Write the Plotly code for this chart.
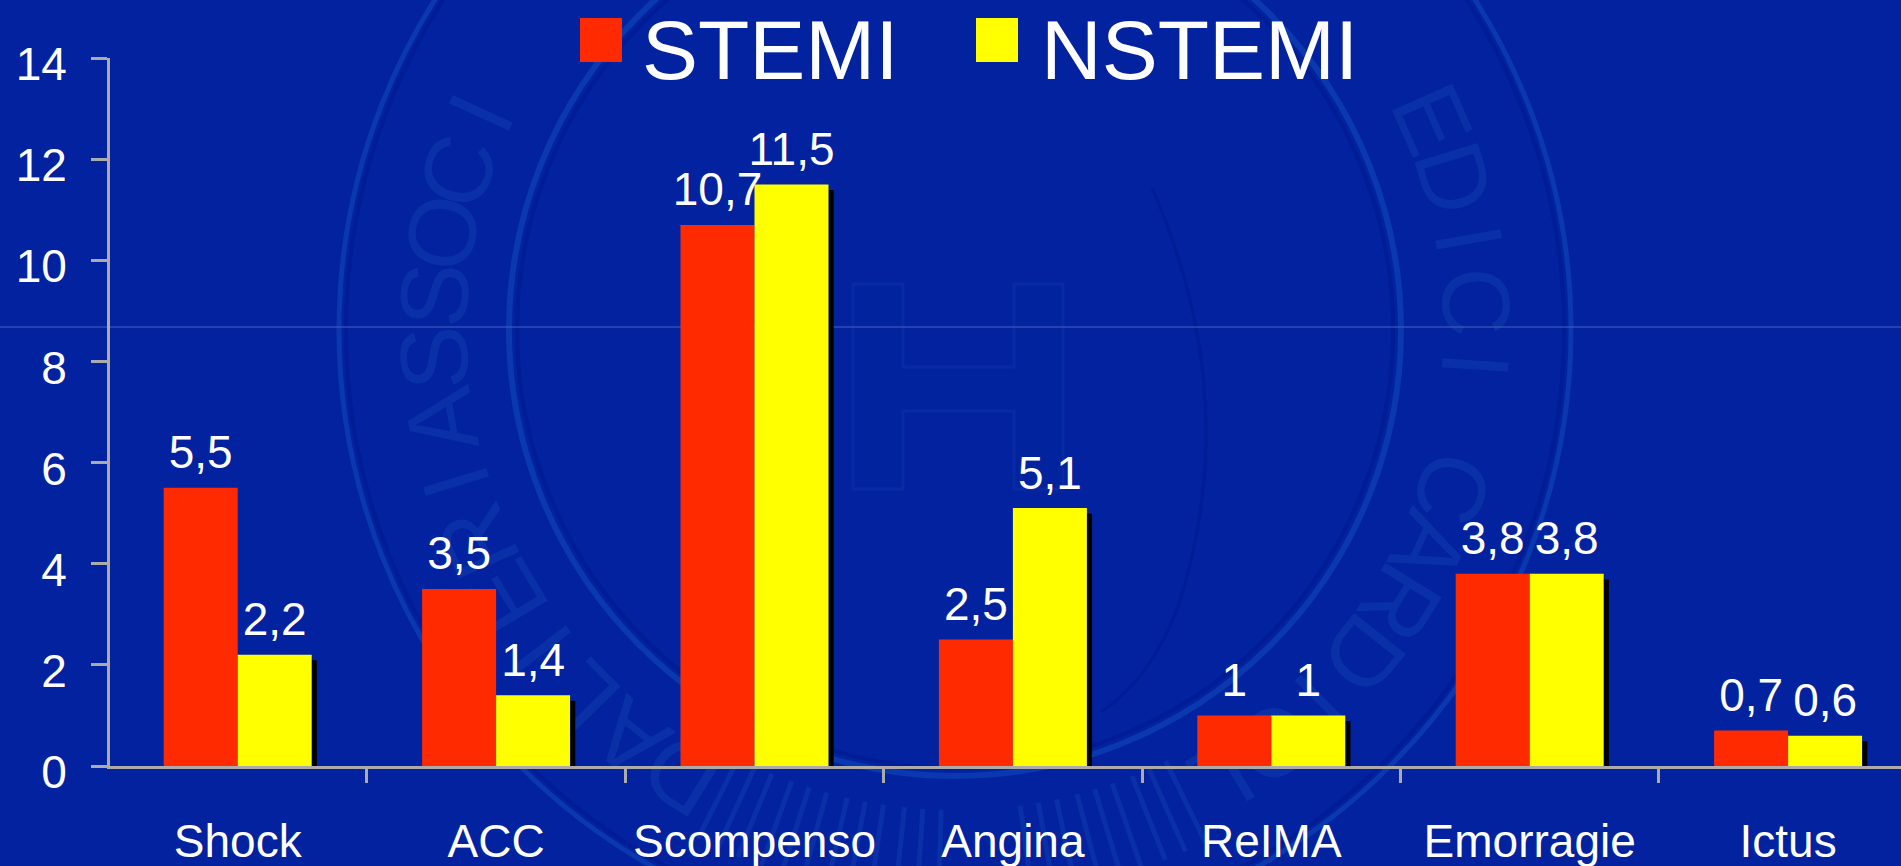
import math
import plotly.graph_objects as go

categories = ["Shock", "ACC", "Scompenso", "Angina", "ReIMA", "Emorragie", "Ictus"]
stemi = [5.5, 3.5, 10.7, 2.5, 1, 3.8, 0.7]
nstemi = [2.2, 1.4, 11.5, 5.1, 1, 3.8, 0.6]
series_names = ["STEMI", "NSTEMI"]
y_ticks = [0, 2, 4, 6, 8, 10, 12, 14]

BG = "#02229F"
RED = "#FF2A00"
YELLOW = "#FFFF00"
AXIS = "#ABABAB"
FONT = "Liberation Sans"
W, H = 1901, 866
L, T, B = 110, 58, 100
PW, PH = W - L, H - T - B
CAT_PX = 258.4
X_START = -0.5 + 1.5 / CAT_PX


def px(x):
    return (x - L) / PW


def py(y):
    return (H - B - y) / PH


def lab(vals):
    return [str(v).replace(".", ",") for v in vals]


BW = 74 / CAT_PX
LIFT = 0.13


def label_trace(vals, offset, name):
    # transparent carrier that holds the value labels a little above the bar
    return go.Bar(x=categories, y=[v + LIFT for v in vals], name=name, offset=offset, width=BW,
                  marker=dict(color="rgba(0,0,0,0)", line_width=0), text=lab(vals),
                  textposition="outside", cliponaxis=False, constraintext="none", hoverinfo="skip",
                  textfont=dict(size=46, color="#FFFFFF", family=FONT))


fig = go.Figure()
fig.add_bar(x=categories, y=stemi, name=series_names[0], offset=-BW, width=BW,
            marker=dict(color=RED, line_width=0))
fig.add_trace(label_trace(stemi, -BW, series_names[0] + " labels"))
fig.add_bar(x=categories, y=[v - 0.11 for v in nstemi], name=series_names[1] + " shadow",
            offset=0.02, width=BW, marker=dict(color="#000000", line_width=0), hoverinfo="skip")
fig.add_bar(x=categories, y=nstemi, name=series_names[1], offset=0, width=BW,
            marker=dict(color=YELLOW, line_width=0))
fig.add_trace(label_trace(nstemi, 0, series_names[1] + " labels"))

RING = "#0A38AE"
DARK = "#011D96"
LETTER = "#0A30A8"
CX, CY = 955, 330
shapes = []
for r, w, c in [(616, 5, RING), (609, 4, DARK), (446, 6, RING), (438, 4, DARK)]:
    shapes.append(dict(type="circle", xref="paper", yref="paper", layer="below",
                       x0=px(CX - r), x1=px(CX + r), y0=py(CY + r), y1=py(CY - r),
                       line=dict(color=c, width=w)))
# large H of the seal
H_pts = [(853, 284), (903, 284), (903, 367), (1014, 367), (1014, 284), (1063, 284),
         (1063, 489), (1014, 489), (1014, 411), (903, 411), (903, 489), (853, 489)]
shapes.append(dict(type="path", xref="paper", yref="paper", layer="below",
                   path="M" + " L".join(f"{px(a):.5f},{py(b):.5f}" for a, b in H_pts) + " Z",
                   fillcolor="#02239E", line=dict(color="#082BA4", width=3)))
# inner dark contour of the seal
shapes.append(dict(type="path", xref="paper", yref="paper", layer="below",
                   path=f"M{px(1152):.5f},{py(188):.5f} Q{px(1245):.5f},{py(400):.5f} {px(1178):.5f},{py(607):.5f} "
                        f"Q{px(1150):.5f},{py(680):.5f} {px(1101):.5f},{py(712):.5f}",
                   line=dict(color=DARK, width=3)))
# embossed lettering of the seal, behind the bars
seal = "ASSOCIAZIONE NAZIONALE MEDICI CARDIOLOGI OSPEDALIERI"
for i, ch in enumerate(seal):
    if ch == " ":
        continue
    th = -100 + i * 360 / len(seal)
    a = math.radians(th)
    cx, cy = CX + 531 * math.sin(a), CY - 531 * math.cos(a)
    if 60 < cy < 805:
        shapes.append(dict(type="rect", xref="paper", yref="paper", layer="below",
                           x0=px(cx - 1), x1=px(cx + 1), y0=py(cy + 1), y1=py(cy - 1),
                           line_width=0, fillcolor="rgba(0,0,0,0)",
                           label=dict(text=ch, textangle=th, textposition="middle center", padding=0,
                                      font=dict(family=FONT, size=96, color=LETTER))))
    elif cy >= 805:
        # the letters that run off the bottom of the slide read only as strokes
        for d in (-2.2, 0, 2.2):
            b = a + math.radians(d)
            shapes.append(dict(type="line", xref="paper", yref="paper", layer="below",
                               x0=px(CX + 480 * math.sin(b)), y0=py(CY - 480 * math.cos(b)),
                               x1=px(CX + 570 * math.sin(b)), y1=py(CY - 570 * math.cos(b)),
                               line=dict(color=LETTER, width=5)))
# thin horizontal slide line
shapes.append(dict(type="line", xref="paper", yref="paper", layer="below",
                   x0=px(0), x1=1, y0=py(327), y1=py(327), line=dict(color="#4A62B8", width=1)))
# legend swatches
for x0, c in [(580, RED), (976, YELLOW)]:
    shapes.append(dict(type="rect", xref="paper", yref="paper", layer="above",
                       x0=px(x0), x1=px(x0 + 42), y0=py(62), y1=py(18),
                       fillcolor=c, line_width=0))

annotations = []
for name, x in zip(series_names, [644, 1043]):
    annotations.append(dict(xref="paper", yref="paper", showarrow=False, x=px(x), y=py(50),
                            xanchor="left", yanchor="middle", xshift=-4, text=name,
                            font=dict(family=FONT, size=84, color="#FFFFFF")))

fig.update_layout(
    width=W, height=H, autosize=False, barmode="overlay", showlegend=False,
    paper_bgcolor=BG, plot_bgcolor="rgba(0,0,0,0)",
    margin=dict(l=L, r=0, t=T, b=B, pad=0),
    font=dict(family=FONT, size=46, color="#FFFFFF"),
    shapes=shapes, annotations=annotations,
    xaxis=dict(range=[X_START, X_START + PW / CAT_PX], type="category", categoryorder="array",
               categoryarray=categories, tickson="boundaries", ticks="outside", ticklen=14,
               tickwidth=3, tickcolor=AXIS, showline=True, linecolor=AXIS, linewidth=3,
               showgrid=False, zeroline=False, tickangle=0, ticklabelstandoff=33,
               tickfont=dict(size=46, color="#FFFFFF", family=FONT)),
    yaxis=dict(range=[0, 14], tickvals=y_ticks, ticks="outside", ticklen=16, tickwidth=3,
               tickcolor=AXIS, showline=True, linecolor=AXIS, linewidth=3, showgrid=False,
               zeroline=False, ticklabelstandoff=15, ticklabelshift=6,
               tickfont=dict(size=46, color="#FFFFFF", family=FONT)),
)

fig.write_html("out.html", config={"displayModeBar": False},
               post_script="document.body.style.margin='0';document.body.style.overflow='hidden';")
